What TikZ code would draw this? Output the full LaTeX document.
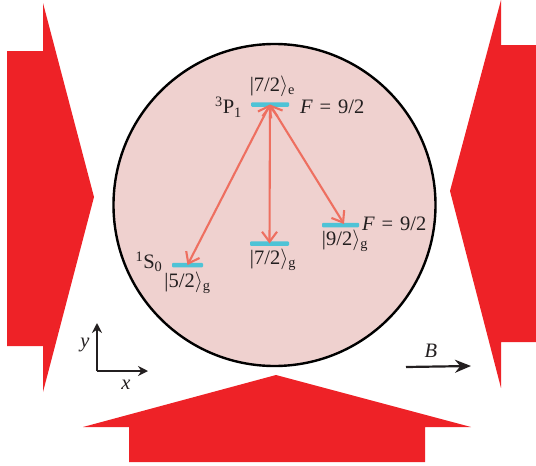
\documentclass[tikz,border=0pt]{standalone}
\usepackage{fontspec}
\setmainfont{Liberation Serif}
\usetikzlibrary{arrows.meta}
\definecolor{beamred}{HTML}{EE2227}
\definecolor{cellpink}{HTML}{EFD1CF}
\definecolor{levelcyan}{HTML}{4EC3D6}
\definecolor{transred}{HTML}{EE6F60}
\definecolor{axisblack}{HTML}{231F20}
\newcommand{\ketlbl}[2]{|#1$\rangle$\textsubscript{#2}}
\newcommand{\eqlbl}{\textit{F}\,\,=\,\,9/2}
\tikzset{
  beam/.style  = {fill=beamred, draw=none},
  cell/.style  = {circle, draw=black, line width=2.4pt, fill=cellpink,
                  minimum size=322pt, inner sep=0pt},
  lvl/.style   = {rectangle, rounded corners=1pt, fill=levelcyan,
                  minimum height=4.5pt, inner sep=0pt},
  trans/.style = {{Straight Barb[length=10pt,width=15pt]}-{Straight Barb[length=10pt,width=15pt]},
                  draw=transred, line width=2.1pt},
  ax/.style    = {-{Stealth[length=10pt,width=10pt]}, draw=axisblack, line width=1.5pt},
  lbl/.style   = {font=\fontsize{20.5}{22}\selectfont, text=axisblack, inner sep=0pt},
}
\begin{document}
\begin{tikzpicture}[x=1pt,y=-1pt]
  \useasboundingbox (0,0) rectangle (536,466);
  % beams
  \fill[beam] (94,197) -- (43,3) -- (43,51) -- (7,51) -- (7,346) -- (43,346) -- (43,392) -- cycle;
  \fill[beam] (450,191) -- (501,0) -- (501,45) -- (536,45) -- (536,342) -- (501,342) -- (501,388) -- cycle;
  \fill[beam] (276,375) -- (471,427) -- (425,427) -- (425,462) -- (129,462) -- (129,427) -- (83,427) -- cycle;
  \node[cell] (c) at (274.5,205) {};
  % levels
  \node[lvl,minimum width=38pt] (ee) at (270,104.5) {};
  \node[lvl,minimum width=31pt] (g5) at (187.5,265) {};
  \node[lvl,minimum width=39pt] (g7) at (269.5,243.5) {};
  \node[lvl,minimum width=37pt] (g9) at (340.5,225) {};
  \coordinate (g9t) at (344,224);
  \draw[trans] (ee.center) -- (g5.center);
  \draw[trans] (ee.center) -- (g7.center);
  \draw[trans] (ee.center) -- (g9t);
  \node[lbl] (tee) at (272.5,86) {\ketlbl{7/2}{e}};
  \node[lbl] (tp) at (228.5,107) {\textsuperscript{3}P\textsubscript{1}};
  \node[lbl,anchor=west] (tf) at (300,107) {\eqlbl};
  \node[lbl] (ts) at (149,262) {\textsuperscript{1}S\textsubscript{0}};
  \node[lbl] (t5) at (187.5,283) {\ketlbl{5/2}{g}};
  \node[lbl] (t7) at (273,260) {\ketlbl{7/2}{g}};
  \node[lbl] (t9) at (345,241) {\ketlbl{9/2}{g}};
  \node[lbl,anchor=west] (tf2) at (362,224) {\eqlbl};
  % axes
  \coordinate (o) at (97,371);
  \coordinate (ox) at (148,371);
  \coordinate (oy) at (97,323);
  \draw[ax] (o) -- (ox);
  \draw[ax] (o) -- (oy);
  \node[lbl] (tx) at (126,385) {\textit{x}};
  \node[lbl] (ty) at (85,345) {\textit{y}};
  % field
  \coordinate (b0) at (406,367);
  \coordinate (b1) at (471,366);
  \draw[ax,line width=2.2pt,-{Stealth[length=16pt,width=13pt]}] (b0) -- (b1);
  \node[lbl] (tb) at (431,351) {\textit{B}};
\end{tikzpicture}
\end{document}
